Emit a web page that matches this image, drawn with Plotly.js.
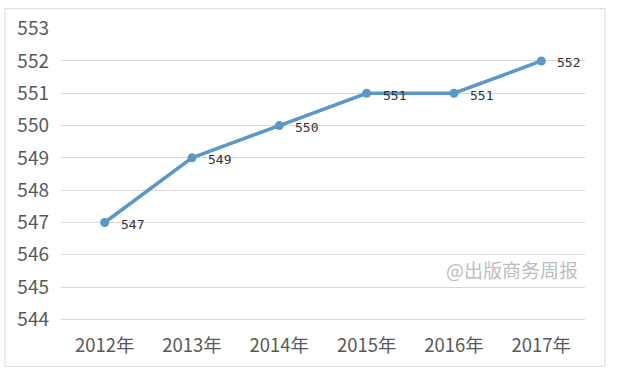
<!DOCTYPE html>
<html><head><meta charset="utf-8">
<script src="https://cdn.plot.ly/plotly-3.0.1.min.js"></script>
<style>body{margin:0;background:#fff}#c{width:630px;height:377px}</style>
</head><body><div id="c"></div>
<script>
const years = ["2012年","2013年","2014年","2015年","2016年","2017年"];
const values = [547, 549, 550, 551, 551, 552];
const yTicks = [544,545,546,547,548,549,550,551,552,553];
const watermark = "@出版商务周报";

const trace = {
  x: years, y: values, type: "scatter", mode: "lines+markers",
  line: {color: "#5b97c7", width: 3.5},
  marker: {color: "#5b97c7", size: 9},
  hoverinfo: "skip", cliponaxis: false
};
const anns = years.map((c, i) => ({
  x: c, y: values[i], xref: "x", yref: "y", text: String(values[i]),
  showarrow: false, xanchor: "left", yanchor: "middle", xshift: 14, yshift: -2,
  font: {family: "DejaVu Sans Mono, Liberation Mono, monospace", size: 13, color: "#333"}
}));
anns.push({
  x: 1.0, y: 545.55, xref: "paper", yref: "y", text: watermark, showarrow: false,
  xanchor: "right", yanchor: "middle", xshift: -5,
  font: {family: "Noto Sans CJK SC", size: 19, color: "#bdbdbd"}
});
const layout = {
  width: 630, height: 377,
  margin: {l: 61, r: 45, t: 27.5, b: 55.5},
  paper_bgcolor: "#fff", plot_bgcolor: "#fff",
  showlegend: false,
  xaxis: {type: "category", range: [-0.5, 5.5], showgrid: false, zeroline: false, showline: false, ticks: "",
    ticklabelstandoff: 11,
    tickfont: {family: "Noto Sans CJK SC", size: 18.5, color: "#595959"}, fixedrange: true},
  yaxis: {range: [543.95, 553.02], tickvals: yTicks, showgrid: true, gridcolor: "#d9d9d9", gridwidth: 1,
    zeroline: false, showline: false, ticks: "", ticklabelstandoff: 11,
    tickfont: {family: "Noto Sans CJK SC", size: 19, color: "#595959"}, fixedrange: true},
  annotations: anns,
  shapes: [{type: "rect", xref: "paper", yref: "paper", x0: -0.1069, x1: 1.0382, y0: -0.155, y1: 1.066,
    line: {color: "#d9d9d9", width: 1}, fillcolor: "rgba(0,0,0,0)", layer: "below"}]
};
Plotly.newPlot("c", [trace], layout, {displayModeBar: false, staticPlot: true});
</script></body></html>
